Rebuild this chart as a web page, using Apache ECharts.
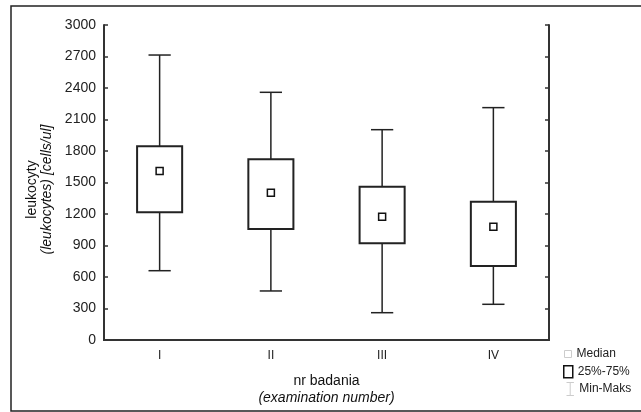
<!DOCTYPE html>
<html>
<head>
<meta charset="utf-8">
<script src="https://cdn.jsdelivr.net/npm/echarts@6/dist/echarts.min.js"></script>
<style>html,body{margin:0;padding:0;background:#fff}#c{width:641px;height:412px}</style>
</head>
<body>
<div id="c"></div>
<script>
var categories = ['I', 'II', 'III', 'IV'];
var minValues = [660, 467, 260, 340];
var q1Values = [1216, 1057, 921, 705];
var medianValues = [1610, 1403, 1174, 1079];
var q3Values = [1845, 1721, 1460, 1317];
var maxValues = [2714, 2359, 2003, 2213];
var yTicks = [0, 300, 600, 900, 1200, 1500, 1800, 2100, 2400, 2700, 3000];

var chart = echarts.init(document.getElementById('c'), null, {renderer: 'canvas'});
var font = 'Liberation Sans, Arial, sans-serif';
var axisColor = '#333';

var whiskerData = categories.map(function (c, i) { return [i, minValues[i], maxValues[i]]; });
var boxData = categories.map(function (c, i) { return [i, q1Values[i], q3Values[i]]; });
var medData = categories.map(function (c, i) { return [i, medianValues[i]]; });

var option = {
  animation: false,
  textStyle: {fontFamily: font, color: '#222'},
  grid: {left: 104, right: 92, top: 25, bottom: 72},
  graphic: [{
    type: 'rect', shape: {x: 11, y: 6, width: 640, height: 405},
    style: {fill: 'none', stroke: '#222', lineWidth: 1.5}, silent: true, z: -1
  }],
  xAxis: [{
    type: 'category', data: categories, position: 'bottom',
    axisLine: {lineStyle: {color: axisColor, width: 2}},
    axisTick: {inside: true, alignWithLabel: true, length: 4, lineStyle: {color: axisColor, width: 1.5}},
    axisLabel: {fontSize: 12, color: '#222', margin: 10, fontFamily: font},
    name: '{a|nr badania}\n{b|(examination number)}',
    nameLocation: 'middle', nameGap: 33,
    nameTextStyle: {rich: {
      a: {fontSize: 14, fontFamily: font, color: '#111', lineHeight: 17},
      b: {fontSize: 14, fontFamily: font, color: '#111', fontStyle: 'italic', lineHeight: 17}
    }}
  }, {
    type: 'category', data: categories, position: 'top',
    axisLine: {lineStyle: {color: axisColor, width: 2}},
    axisTick: {inside: true, alignWithLabel: true, length: 4, lineStyle: {color: axisColor, width: 1.5}},
    axisLabel: {show: false}
  }],
  yAxis: [{
    type: 'value', min: yTicks[0], max: yTicks[yTicks.length - 1], interval: 300, position: 'left',
    splitLine: {show: false},
    axisLine: {show: true, lineStyle: {color: axisColor, width: 2}},
    axisTick: {show: true, inside: true, length: 4, lineStyle: {color: axisColor, width: 1.5}},
    axisLabel: {fontSize: 14, color: '#222', margin: 8, fontFamily: font, formatter: function (v) { return String(v); }},
    name: '{a|leukocyty}\n{b|(leukocytes) [cells/ul]}',
    nameLocation: 'middle', nameGap: 39, nameRotate: 90,
    nameTextStyle: {padding: [0, 14, 0, 0], rich: {
      a: {fontSize: 14, fontFamily: font, color: '#111', lineHeight: 15},
      b: {fontSize: 14, fontFamily: font, color: '#111', fontStyle: 'italic', lineHeight: 15}
    }}
  }, {
    type: 'value', min: yTicks[0], max: yTicks[yTicks.length - 1], interval: 300, position: 'right',
    splitLine: {show: false},
    axisLine: {show: true, lineStyle: {color: axisColor, width: 2}},
    axisTick: {show: true, inside: true, length: 4, lineStyle: {color: axisColor, width: 1.5}},
    axisLabel: {show: false}
  }],
  legend: [{
    data: [{name: 'Median', icon: 'rect', itemStyle: {color: '#fff', borderColor: '#ccc', borderWidth: 1}}],
    left: 559, top: 343, itemWidth: 7, itemHeight: 7, itemGap: 0,
    textStyle: {fontSize: 12, color: '#222', fontFamily: font}, selectedMode: false
  }, {
    data: [{name: '25%-75%', icon: 'rect', itemStyle: {color: '#fff', borderColor: '#111', borderWidth: 1.5}}],
    left: 558, top: 360, itemWidth: 9, itemHeight: 12, itemGap: 0,
    textStyle: {fontSize: 12, color: '#222', fontFamily: font}, selectedMode: false
  }, {
    data: [{name: 'Min-Maks', icon: 'path://M0,0H8M4,0V14M0,14H8', itemStyle: {color: 'none', borderColor: '#ccc', borderWidth: 1}}],
    left: 559, top: 375, itemWidth: 8, itemHeight: 13, itemGap: 0,
    textStyle: {fontSize: 12, color: '#222', fontFamily: font}, selectedMode: false
  }],
  series: [{
    name: 'Min-Maks', type: 'custom', data: whiskerData, z: 1,
    encode: {x: 0, y: [1, 2]},
    renderItem: function (params, api) {
      var i = api.value(0);
      var lo = api.coord([i, api.value(1)]);
      var hi = api.coord([i, api.value(2)]);
      var w = api.size([1, 0])[0] * 0.2;
      var st = {stroke: '#222', lineWidth: 1.5};
      return {type: 'group', children: [
        {type: 'line', shape: {x1: lo[0], y1: lo[1], x2: hi[0], y2: hi[1]}, style: st},
        {type: 'line', shape: {x1: lo[0] - w / 2, y1: lo[1], x2: lo[0] + w / 2, y2: lo[1]}, style: st},
        {type: 'line', shape: {x1: hi[0] - w / 2, y1: hi[1], x2: hi[0] + w / 2, y2: hi[1]}, style: st}
      ]};
    }
  }, {
    name: '25%-75%', type: 'custom', data: boxData, z: 2,
    encode: {x: 0, y: [1, 2]},
    renderItem: function (params, api) {
      var i = api.value(0);
      var lo = api.coord([i, api.value(1)]);
      var hi = api.coord([i, api.value(2)]);
      var w = api.size([1, 0])[0] * 0.405;
      return {type: 'rect', shape: {x: lo[0] - w / 2, y: hi[1], width: w, height: lo[1] - hi[1]},
        style: {fill: '#fff', stroke: '#222', lineWidth: 2}};
    }
  }, {
    name: 'Median', type: 'scatter', data: medData, z: 3,
    symbol: 'rect', symbolSize: 7,
    itemStyle: {color: '#fff', borderColor: '#111', borderWidth: 1.5, opacity: 1}
  }]
};
chart.setOption(option);
</script>
</body>
</html>
